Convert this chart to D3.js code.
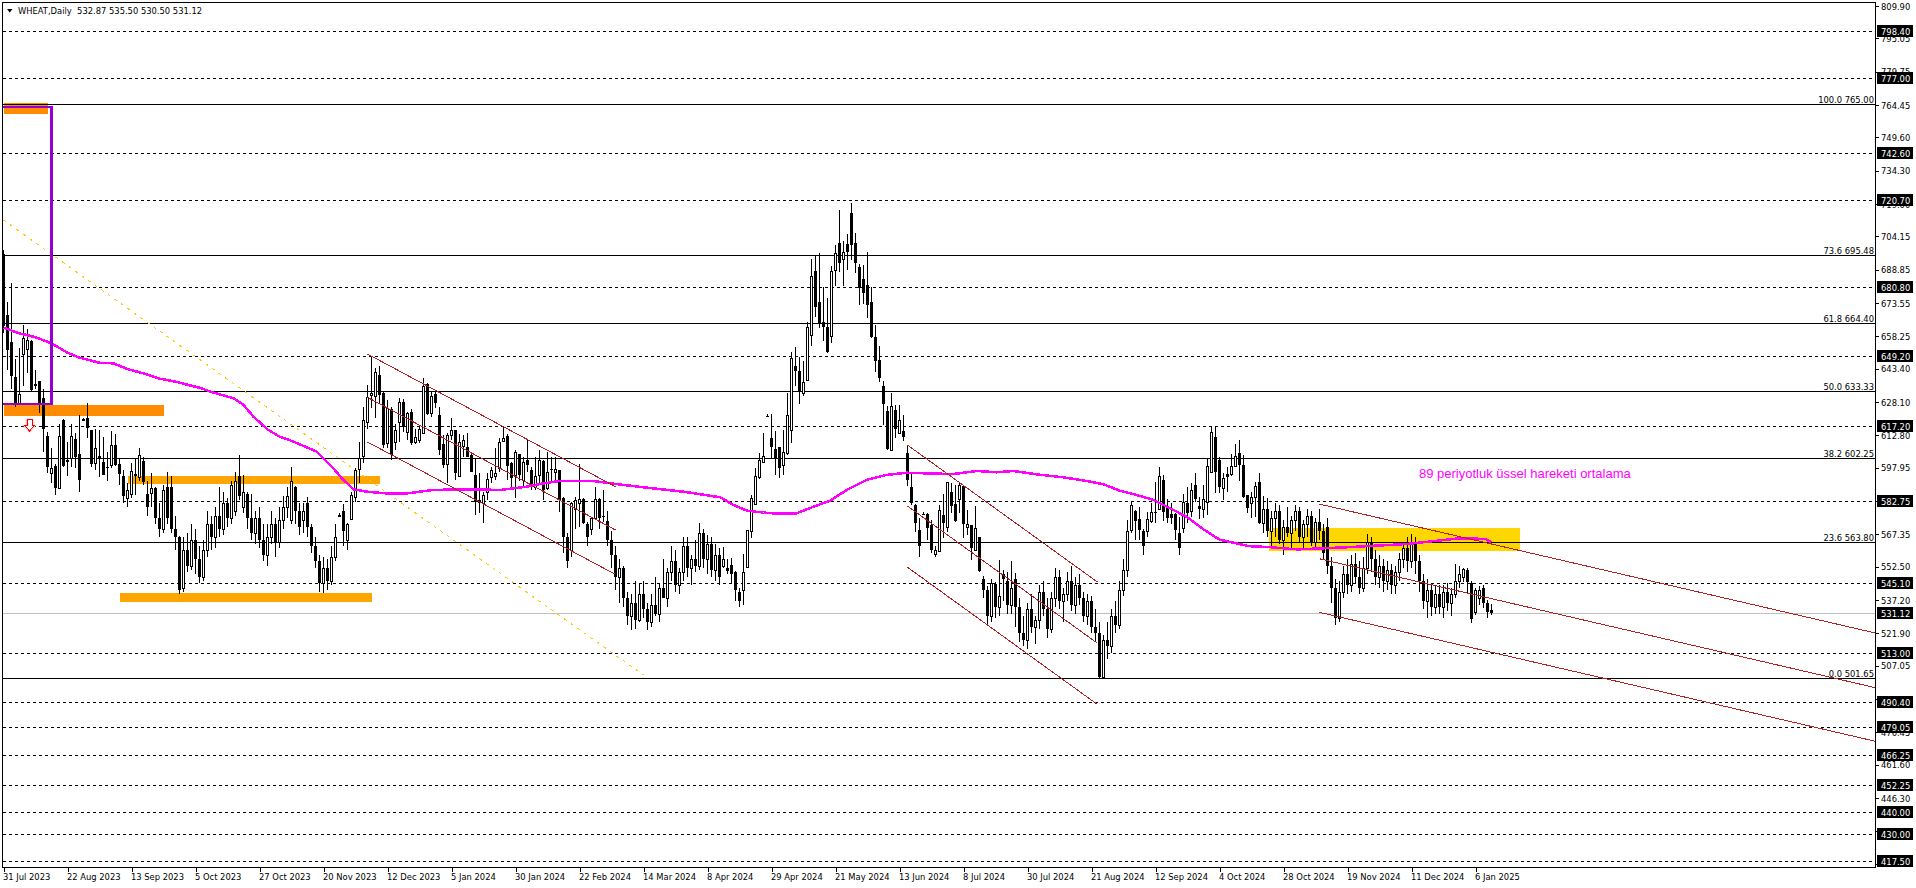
<!DOCTYPE html>
<html>
<head>
<meta charset="utf-8">
<title>WHEAT,Daily</title>
<script src="https://cdn.jsdelivr.net/npm/d3@7"></script>
<style>
  html, body { margin: 0; padding: 0; background: #fff; }
  svg { display: block; }
  text { font-family: "DejaVu Sans Condensed", "Liberation Sans", Arial, sans-serif; font-size: 9.3px; fill: #000; }
</style>
</head>
<body>
<div id="chart"></div>
<script>
// daily candles
var opens = [
  696,668,655.5,639.5,627.5,650,652.4,656,636.4,638,
  630,612.6,595.7,599,588.8,619.9,601.4,602.3,611.2,604.3,
  620.3,620.8,615.3,600.3,603.4,600.8,598.5,599.2,608.4,599.7,
  594,584,585.9,595,593.9,601,586,586.2,588.5,575,
  570,589,589,570,566,543,560,553,565,556,
  548,560,572,566,576,570,582,575,578,594,
  580,586,575,568,575,565,558,566,572,564,
  574,580,574,589,578,574,582,571,562,555,
  545,552,546,557,576,578,565,574.3,584.4,597.4,
  603.5,619.2,631.3,631,640.6,632.5,609.2,624.8,610,619.2,
  628,614.6,623.4,610,610.7,614,636.4,623.3,631.8,622.2,
  608.9,599.7,613,615.3,594.4,608.1,607.4,603.8,594.7,583.2,
  581.7,587,593.9,594.2,598,610.4,612.6,600,594.7,604.3,
  592.4,601.5,597,589,594.7,601,588.5,597.3,596.2,597,
  583.9,566,560,579,581.7,583.5,572,570,574.8,583.7,
  575.8,573.7,565,558,548,552,538,530,536,528,
  540,533,527,535,531,543,538,550,555,544,
  550,562,552,556,553,568,556,563,551,558,
  553,551.8,553.3,550,541,541.8,552.6,569,581.3,593.9,
  600.8,621.8,611.5,606.6,607.3,599.2,604.9,615.3,644.7,642.3,
  632.5,638.3,659,688.3,673.9,665,662.5,658.5,688.8,701,
  693.7,700.6,714.8,701,690,684.5,681.9,674,657.9,647.5,
  635.5,624,606.1,624.5,614,614.9,604.6,589,580.9,569.4,
  576.9,576.8,571.7,558.2,559.9,576.3,570.6,587,581.3,583.6,
  589.6,571,571.7,560.2,566,546.8,542,530,544.7,534,
  549,546,535,547,534,522,519,533,525,528,
  541,533,524,538,548,537,540,546,535,544,
  538,530,537,525,522,502,519,516,530,526,
  542,551,569.4,578.1,574.4,569,569,573.7,577.7,579,
  592.4,579.3,576.6,576.6,568,570.2,581.6,578.3,590,580.4,
  578.9,582.4,596.2,612,601.5,588.5,595.1,595.1,598.8,604.6,
  599.2,585.5,581.6,584.7,591.3,572.5,579,569,575,578,
  565,571,568,574,578,566,572,576,564,573,
  569,571,553,543,529,541,549,544,554,548,
  543,552,564,556,548,553,546,551,544,550,
  556,561,555,563,555,546,537,542,534,540,
  534,541,536,540,546,548,551,544.9,531.9,538,
  542.6,536,532.87
];
var highs = [
  698,674,683,648,653,663.5,661.5,656.6,643,638,
  634,614.6,606.9,599.7,618,620.2,610,618,614,622,
  621,627.9,615.3,616,615.3,612,605,615,613.5,602.3,
  597,591,600,602,606.9,603,592,595.4,589,582,
  590,596,594,576,566.5,566,568,572,570,562,
  565,578,576,580,589,587,584,592,596,604,
  594.6,587,586,578,580,572,572,578,575,580,
  585,589,598.5,589.5,582,581.6,584.7,572,566,558,
  557,556,562,572,577,581.4,572.5,586.7,598,609.7,
  626,636,648.7,644,644.7,633,629,626,618,629.9,
  629.4,623.7,624.8,616,617.6,639,636.7,632.9,633.7,626,
  613,613.8,620.7,615.3,613.5,613,614,604.6,602.3,595.7,
  587,595.4,598.5,606.9,611.5,616.9,613.3,600.8,606.1,604.3,
  603,611,598.5,603,606.1,601.5,605.4,603,603,597,
  584.4,568,582.4,584.7,599.7,584,573,575.5,589,584,
  588,578,569,562,556,553,541,540,546,545,
  546,536,540,548,545,556,552,562,560,552,
  566,566,558,565,572.8,570,567,566,563,561,
  561.7,556,556.4,550.5,543,558.4,569.4,585.5,597.7,604.6,
  613.8,622.5,622.5,615,607.6,615.3,632.2,651,653.3,648.7,
  647,664.8,693.8,695.2,696.4,680.8,675.8,690.8,700.3,716.3,
  702,705.3,719.7,705.6,691.5,691,696.9,680.8,663.5,653.9,
  637.8,626.3,632.2,626.8,626.8,622.2,608.4,595,581.3,574.8,
  577.5,577,574,562,580.9,585.9,591.6,590.8,590,591.6,
  590,578.6,571.7,580.4,566,548.3,543.5,547,545.5,555.6,
  551,550,555.3,549.5,538,530,536,540,530,544,
  546,538,541,552,551,543,550,553,548,549,
  541,540,539,533,527,521,527,533,537,546,
  556,574,582.4,578.6,579.8,570,577.8,581.6,591.3,598.5,
  594.6,583.5,582,577,575.5,586,589,590.8,595.4,584.7,
  590,602.3,617.2,617.2,603,595.4,598.5,604.1,608.9,610.7,
  604,585.5,587,591.6,595.4,585,584,578,582,581,
  574,580,576,581,580,574,579,578,575,579,
  572,575,557,547,546,553,556,558,559,555,
  557,567.5,566,560,558,556,555,554,553,559,
  564,566,567.8,566,558,549,547,545,544,544,
  544,545,543,554,553,551.8,552,546,543,543.7,
  544.2,537.3,535.5
];
var lows = [
  660,643,634,626,627,635.7,641.4,633,634,623,
  605,595.4,590.8,585.5,588.2,598.5,594,598.5,597.7,587,
  620,611.8,598.5,597,593.6,594.7,592,597.7,599,590,
  582,580,584,585.5,592,590,576,580,572,566,
  568,572,568,560,540,541,550,551,549,545,
  546,557,560,561,566,567,571,572,576,583,
  577,570,565,563,561,555,553,563,557,561,
  570,575,572,572,567,568,566,559,552,541,
  540.5,542,544,555,575.8,562,560,574,582.4,590.8,
  600.3,616,625.3,621,627.9,606.9,606.9,601.6,606,610,
  614.6,610.7,608.4,609,609.2,613.8,622.2,621.4,625.3,603.8,
  597.7,590.8,610.7,592.4,593.9,603,603,596,576.3,577,
  572.8,583,590.8,592.4,596.2,610,592.4,588.5,584,592,
  589.3,596,587.8,587.8,590,583,587.8,591.6,591.6,577.8,
  559,552,557,570,571,572,562,567,574,570,
  573,562,552,542,536,534,526,523.5,524,527,
  529,523.5,525,530,527,538,534,546,541,540,
  546,548,544,550,551,552,549,548,546,544,
  552,549,545,537,534,535,552,565.6,580.9,593,
  600.8,621.5,602.3,594.7,593.1,594.7,603.8,609.2,635.5,627.3,
  631,638,654,667.4,662,656.3,650.5,655.4,681.4,688,
  681.4,688.8,693.4,687.6,672.7,673,666.9,657.4,642,637.5,
  617.6,606,605.6,611.5,613.8,610.4,589.6,580.9,568.6,557,
  576.3,564.8,558.7,556.8,559.4,565.6,568.6,577,573.2,577,
  565.6,567,555.6,560.2,550.3,538,526,527,529,530,
  537,531,531,525,518,516,515,522,517,524,
  530,520,522,534,533,527,537,532,531,535,
  527,526,522,518,501.65,501.65,510,513,522,524,
  539,548,568,565,565,558,566,572.5,572.8,578.6,
  573.5,572.5,572.2,565,558,568,572.5,575.5,582.4,574.5,
  574.8,576.3,595.7,586.2,586.5,583.2,587,594.2,598.2,592,
  584,577.4,574.8,575.5,572,568,566,561,566,563,
  558,566,560,569,564,560,566,562,560,565,
  556,549,536,526,527,538,540,541,545,540,
  541,549,550,544,543,541,542,540,540,546,
  552,550,552,549,541,533,529,530,531,531,
  529,532,530,538,543,545.7,540,526.9,530.4,535,
  533.4,528.9,530.5
];
var closes = [
  663,652,640,627,632,657.7,656.6,633.7,635.7,627.5,
  616,598.5,597.7,588.8,612.6,599,600.8,612.6,603,592.4,
  620.3,616.2,599.7,606.9,602.3,594.7,598,608.4,599.2,595,
  585,587.8,596.5,594,603.7,591.6,580,588.5,575,570,
  588,575,570,566,542,560,553,565,556,548,
  560,572,566,576,570,582,575,590,592,585,
  587,575,568,575,565,558,566,572,564,574,
  580,585,592,578,571,578,571,562,555,545,
  552,546,557,566,576.3,569,572,585.5,597,602.3,
  620,630.3,632.1,641.8,631.4,608.4,625.3,603.8,615.3,628,
  616.9,623,609.5,612.3,616,635.5,622.5,631,627.6,606.1,
  599.1,613,615.3,595.7,609.7,610.7,603,596.2,582.4,582,
  585.5,592.8,597,595.4,609.7,611.5,599,593.4,605,594.7,
  600.8,599.2,589.3,594.2,601.5,588,595.9,597,597.3,583.2,
  566,555,582,583.2,583.5,572.5,566,574.8,583.5,574.8,
  575.2,565,558,548,552,538,530,536,528,540,
  533,527,535,531,543,538,550,555,544,550,
  562,552,556,553,568,556,563,551,558,548,
  556,550.7,549.2,542,537,550.3,569.4,584,594.2,601.5,
  603.4,621.7,607.7,602.3,597.7,605,622.2,648.2,642.6,632.9,
  637.2,662.5,686,672,664.3,662.5,651,688.5,696.7,691.8,
  697.2,697.2,700.3,692.2,680.4,678.4,672.7,658.2,647.2,639.4,
  627.3,606.6,626.3,616,620,612,592.4,582,572.8,562,
  576.6,570.2,560.2,560.2,578.6,572.8,591.3,580.6,573.7,590,
  572.2,572,561,570.2,550.7,541.8,530,545,534,539,
  547,535,543,534,522,519,533,525,528,541,
  533,524,538,548,537,540,546,535,544,538,
  530,537,525,522,502,519,516,530,526,542,
  551,569,580.9,573.5,569.4,562,574.3,577.5,577,594.2,
  577.8,575,575,569.4,561,582.1,577,588,583.5,579.2,
  583.5,598.8,614.2,596.2,589.3,593.1,593.9,598.8,603.4,599.2,
  584.4,579.7,584.4,589.6,572.5,579,569,575,578,565,
  571,568,574,578,566,572,576,564,573,569,
  559,553,543,529,541,549,544,554,548,543,
  552,564,556,548,553,546,551,544,550,556,
  561,555,563,555,546,537,542,534,540,534,
  541,536,540,546,549,551.3,545.7,528.4,541.9,541.9,
  536,531.9,531.12
];

// 89 period EMA, read at the bars where the curve could be measured
var emaBars = [0,4,8,12,16,19,24,27.5,31,35,39,43,49,52.5,57.5,60,62.5,66,69,72.5,78.3,82.5,84.6,87.5,90.8,95.8,100.8,107.5,115.8,124.2,130.8,134,139,147.5,153.3,160,170,179.2,182.5,185.8,190,193.3,198,202.5,206.7,210.8,215.8,220.8,225.8,230.8,237.5,243.3,248.3,252.5,259,265,270.8,275,279,282.5,287.5,291.7,295.8,300,304,311.3,316,323.5,336,351,364,370.5,372];
var emaValues = [662.3,659.7,657.9,655.1,650.8,648.5,646.2,645.9,643.3,641.3,638.9,637.5,634.7,632.5,629.9,626.8,621.4,615.6,612.3,610,605.4,597.7,593.1,588.1,587,586.2,586.2,587.8,588.1,587.8,589.3,590.5,591.9,591.9,590.5,589,587,584.4,580.9,578.3,577.4,576.9,576.9,580.1,582.9,587.8,592.4,594.7,595.7,595.4,595.1,596.5,595.9,596.5,594.8,593.6,591.9,590.4,587.5,585.9,583.2,579.3,575.5,569.7,565,562,561.6,560.5,561.5,563,565.6,565.3,563.7];

var dashedLevels = [798.40,777.00,742.60,720.70,680.80,649.20,617.20,582.75,545.10,513.00,490.40,479.05,466.25,452.25,440.00,430.00,417.50];
var fibLevels = [765.00,695.48,664.40,633.33,602.25,563.80,501.65];
var fibRatios = ['100.0','73.6','61.8','50.0','38.2','23.6','0.0'];
var lastPrice = 531.12;

var priceTicks = [809.90,795.05,779.75,764.45,749.60,734.30,719.00,704.15,688.85,673.55,658.25,643.40,628.10,612.80,597.95,582.65,567.35,552.50,537.20,521.90,507.05,491.75,476.45,461.60,446.30,431.00,416.15];
var dateLabels = ['31 Jul 2023','22 Aug 2023','13 Sep 2023','5 Oct 2023','27 Oct 2023','20 Nov 2023','12 Dec 2023','5 Jan 2024','30 Jan 2024','22 Feb 2024','14 Mar 2024','8 Apr 2024','29 Apr 2024','21 May 2024','13 Jun 2024','8 Jul 2024','30 Jul 2024','21 Aug 2024','12 Sep 2024','4 Oct 2024','28 Oct 2024','19 Nov 2024','11 Dec 2024','6 Jan 2025'];

// rectangles: bar from, bar to, price top, price bottom
var zoneStart = [0,0,31,29,316.4];
var zoneEnd = [11,40,94,92,379];
var zoneTop = [765.4,626.8,594.2,540.5,570.3];
var zoneBottom = [760.4,621.7,590.5,536.4,559.9];

// trend lines: bar from, price from, bar to, price to
var trendStart = [91,91,91,226,226,226,329,329,329];
var trendStartPrice = [650.2,630.3,609.8,608.4,580.4,552.3,581.3,556.2,531.6];
var trendEnd = [153,153,153,273.5,273.5,273.5,468,468,468];
var trendEndPrice = [589.3,569.4,549,545.5,517.4,489.3,522.1,497,472.4];

var width = 1916, height = 888;
var left = 2, top_ = 2, right = 1875, bottom = 867;

var x = d3.scaleLinear().domain([0, 468]).range([3.5, 1875.5]);
var y = d3.scaleLinear().domain([414.7, 811.8]).range([bottom, top_]);

function py(p) { return Math.round(y(p)) + 0.5; }

var svg = d3.select('#chart').append('svg')
  .attr('width', width)
  .attr('height', height);

svg.append('clipPath').attr('id', 'plot').append('rect')
  .attr('x', left).attr('y', top_)
  .attr('width', right - left).attr('height', bottom - top_);

var plot = svg.append('g').attr('clip-path', 'url(#plot)');

// back rectangles, the candles stand on top of them
var zoneColors = ['#ff8c00','#ff8c00','#ffa500','#ffa500','#ffd700'];
plot.selectAll('rect.zone').data(zoneStart).enter().append('rect')
  .attr('class', 'zone')
  .attr('x', function(d) { return x(d); })
  .attr('width', function(d, i) { return x(zoneEnd[i]) - x(d); })
  .attr('y', function(d, i) { return y(zoneTop[i]); })
  .attr('height', function(d, i) { return y(zoneBottom[i]) - y(zoneTop[i]); })
  .attr('fill', function(d, i) { return zoneColors[i]; })
  .attr('shape-rendering', 'crispEdges');

// horizontal levels
plot.selectAll('line.level').data(dashedLevels).enter().append('line')
  .attr('class', 'level')
  .attr('x1', left + 1).attr('x2', right)
  .attr('y1', py).attr('y2', py)
  .attr('stroke', '#000')
  .attr('stroke-dasharray', '3,3')
  .attr('shape-rendering', 'crispEdges');

plot.selectAll('line.fib').data(fibLevels).enter().append('line')
  .attr('class', 'fib')
  .attr('x1', left).attr('x2', right)
  .attr('y1', py).attr('y2', py)
  .attr('stroke', '#000')
  .attr('shape-rendering', 'crispEdges');

plot.append('line')
  .attr('x1', left).attr('x2', right)
  .attr('y1', py(lastPrice)).attr('y2', py(lastPrice))
  .attr('stroke', '#c0c0c0')
  .attr('shape-rendering', 'crispEdges');

// long dotted yellow line
plot.append('line')
  .attr('x1', x(0)).attr('y1', y(711.7))
  .attr('x2', x(160)).attr('y2', y(502.8))
  .attr('stroke', '#ffc800')
  .attr('stroke-dasharray', '3,5')
  .attr('shape-rendering', 'crispEdges');

// candles
var candles = plot.append('g').attr('shape-rendering', 'crispEdges');
var bars = candles.selectAll('g').data(closes).enter().append('g');

bars.append('line')
  .attr('x1', function(d, i) { return x(i); })
  .attr('x2', function(d, i) { return x(i); })
  .attr('y1', function(d, i) { return Math.round(y(highs[i])); })
  .attr('y2', function(d, i) { return Math.round(y(lows[i])); })
  .attr('stroke', '#000');

bars.append('rect')
  .attr('x', function(d, i) { return d >= opens[i] ? x(i) - 1 : x(i) - 1.5; })
  .attr('width', function(d, i) { return d >= opens[i] ? 2 : 3; })
  .attr('y', function(d, i) {
    var t = y(Math.max(d, opens[i]));
    return d >= opens[i] ? Math.round(t) + 0.5 : Math.round(t);
  })
  .attr('height', function(d, i) {
    return Math.max(1, Math.round(y(Math.min(d, opens[i]))) - Math.round(y(Math.max(d, opens[i]))));
  })
  .attr('fill', function(d, i) { return d >= opens[i] ? '#fff' : '#000'; })
  .attr('stroke', function(d, i) { return d >= opens[i] ? '#000' : 'none'; });

// EMA
var emaLine = d3.line()
  .x(function(d) { return x(d); })
  .y(function(d, i) { return y(emaValues[i]); });

plot.append('path')
  .attr('d', emaLine(emaBars))
  .attr('fill', 'none')
  .attr('stroke', '#ff00ff')
  .attr('stroke-width', 2.5)
  .attr('shape-rendering', 'crispEdges');

// trend channels
plot.selectAll('line.trend').data(trendStart).enter().append('line')
  .attr('class', 'trend')
  .attr('x1', function(d) { return x(d); })
  .attr('y1', function(d, i) { return y(trendStartPrice[i]); })
  .attr('x2', function(d, i) { return x(trendEnd[i]); })
  .attr('y2', function(d, i) { return y(trendEndPrice[i]); })
  .attr('stroke', '#b22222')
  .attr('shape-rendering', 'crispEdges');

// purple box
plot.append('rect')
  .attr('x', x(0) - 2)
  .attr('y', y(763.6))
  .attr('width', x(12) - x(0) + 2)
  .attr('height', y(627.3) - y(763.6))
  .attr('fill', 'none')
  .attr('stroke', '#9400d3')
  .attr('stroke-width', 2.5)
  .attr('shape-rendering', 'crispEdges');

// sell arrow, pink halo under the red outline
var arrowPath = 'M-2.5,-5.5 H2.5 V0.5 H4.5 L0,5.5 L-4.5,0.5 H-2.5 Z';
plot.append('path')
  .attr('transform', 'translate(' + x(6.5) + ',' + y(617.4) + ')')
  .attr('d', arrowPath)
  .attr('fill', 'none')
  .attr('stroke', '#ffc0c0')
  .attr('stroke-width', 2.5);
plot.append('path')
  .attr('transform', 'translate(' + x(6.5) + ',' + y(617.4) + ')')
  .attr('d', arrowPath)
  .attr('fill', '#fff')
  .attr('stroke', '#ff0000')
  .attr('shape-rendering', 'crispEdges');

plot.append('text')
  .attr('x', 1419)
  .attr('y', 478)
  .style('font-family', '"Liberation Sans", Arial, sans-serif')
  .style('font-size', '13px')
  .style('fill', '#ff00ff')
  .text('89 periyotluk üssel hareketi ortalama');

// fib labels sit right on the axis
svg.selectAll('text.fiblabel').data(fibLevels).enter().append('text')
  .attr('class', 'fiblabel')
  .attr('x', right - 1)
  .attr('y', function(d) { return py(d) - 2; })
  .attr('text-anchor', 'end')
  .text(function(d, i) { return fibRatios[i] + ' ' + d.toFixed(2); });

// frame
svg.append('rect')
  .attr('x', left + 0.5).attr('y', top_ + 0.5)
  .attr('width', right - left).attr('height', bottom - top_)
  .attr('fill', 'none')
  .attr('stroke', '#000')
  .attr('shape-rendering', 'crispEdges');

// price axis
var yAxis = d3.axisRight(y)
  .tickValues(priceTicks)
  .tickFormat(d3.format('.2f'))
  .tickSize(3)
  .tickPadding(2.5);

var yg = svg.append('g')
  .attr('transform', 'translate(' + (right + 0.5) + ',0)')
  .call(yAxis);
yg.select('.domain').remove();
yg.selectAll('line').attr('shape-rendering', 'crispEdges');
yg.attr('font-family', null).attr('font-size', null);

// black boxes of the horizontal levels, they cover the ticks behind them
var tags = svg.append('g');
var tagValues = dashedLevels.concat([lastPrice]);
tags.selectAll('rect').data(tagValues).enter().append('rect')
  .attr('x', right + 2)
  .attr('y', function(d) { return Math.round(y(d)) - 6; })
  .attr('width', 36)
  .attr('height', 12)
  .attr('fill', '#000')
  .attr('shape-rendering', 'crispEdges');
tags.selectAll('text').data(tagValues).enter().append('text')
  .attr('x', right + 6)
  .attr('y', function(d) { return Math.round(y(d)) + 3.5; })
  .style('fill', '#fff')
  .text(function(d) { return d.toFixed(2); });

// date axis
var xAxis = d3.axisBottom(x)
  .tickValues(dateLabels.map(function(d, i) { return i * 16; }))
  .tickFormat(function(d, i) { return dateLabels[i]; })
  .tickSize(4)
  .tickPadding(2);

var xg = svg.append('g')
  .attr('transform', 'translate(0,' + (bottom + 0.5) + ')')
  .call(xAxis);
xg.select('.domain').remove();
xg.selectAll('line').attr('shape-rendering', 'crispEdges');
xg.selectAll('text').attr('text-anchor', 'start').attr('dx', '-1');
xg.attr('font-family', null).attr('font-size', null);

// header
svg.append('path')
  .attr('d', d3.line()([[7, 9], [12.5, 9], [9.75, 12.5]]) + 'Z')
  .attr('fill', '#000');
svg.append('text')
  .attr('x', 18)
  .attr('y', 14)
  .text('WHEAT,Daily  532.87 535.50 530.50 531.12')
  .attr('xml:space', 'preserve')
  .style('white-space', 'pre');
</script>
</body>
</html>
